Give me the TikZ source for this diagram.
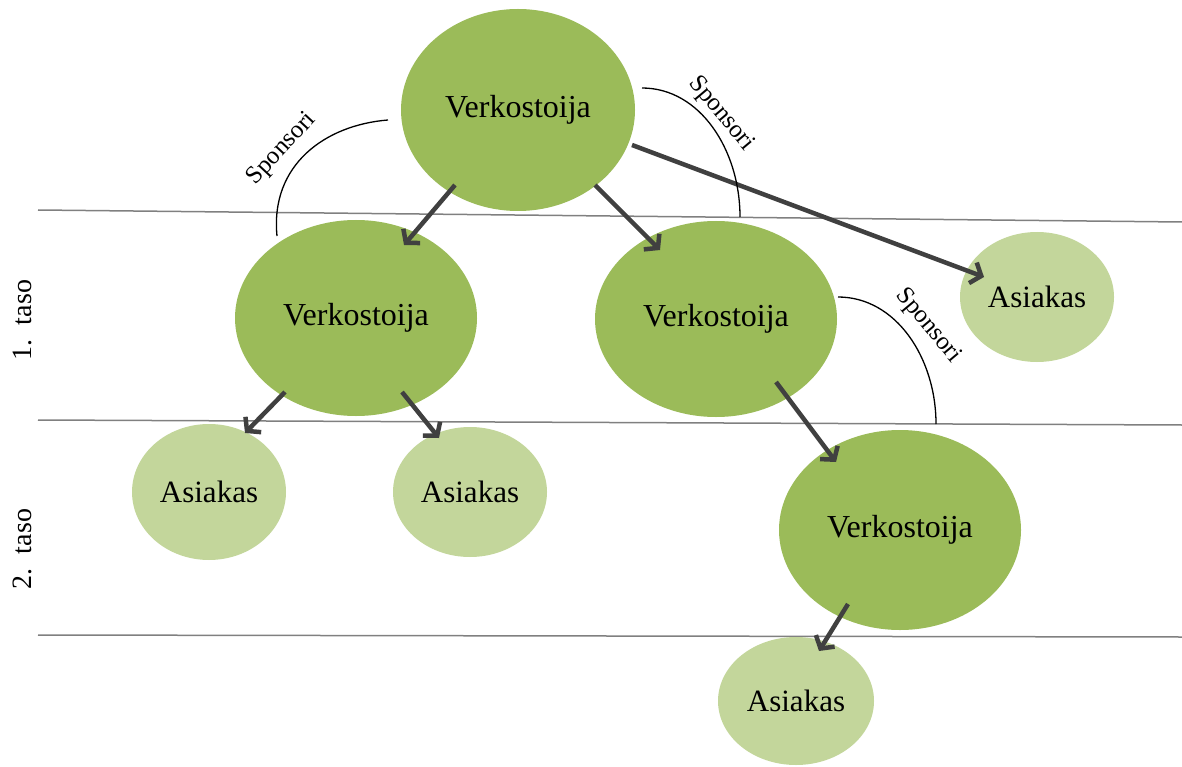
\documentclass[tikz,border=0pt]{standalone}
\usepackage{fontspec}
\newfontfamily\gfont{Liberation Serif}
\usetikzlibrary{shapes.geometric,arrows.meta,calc}
\definecolor{dgreen}{HTML}{9BBB59}
\definecolor{lgreen}{HTML}{C3D69B}
\definecolor{arrgray}{HTML}{404040}
\definecolor{linegray}{HTML}{808080}
\tikzset{
  verk/.style={ellipse, fill=dgreen, inner sep=0pt, minimum width=242pt, minimum height=196pt, font=\gfont\fontsize{32}{36}\selectfont},
  asia/.style={ellipse, fill=lgreen, inner sep=0pt, minimum width=154pt, minimum height=132pt, font=\gfont\fontsize{31}{36}\selectfont},
  arr/.style={draw=arrgray, line width=4.5pt, -{Straight Barb[length=9pt,width=22pt]}},
  levelline/.style={draw=linegray, line width=1.5pt},
  sparc/.style={draw=black, line width=1.3pt},
  splabel/.style={font=\gfont\fontsize{25}{28}\selectfont, inner sep=0pt},
  taso/.style={font=\gfont\fontsize{28}{32}\selectfont, inner sep=0pt, rotate=90}
}
\begin{document}
\begin{tikzpicture}[x=1pt,y=-1pt]
\useasboundingbox (0,0) rectangle (1182,767);
% level lines
\coordinate (l1a) at (38,210); \coordinate (l1b) at (1182,222);
\coordinate (l2a) at (38,420); \coordinate (l2b) at (1182,425);
\coordinate (l3a) at (38,635); \coordinate (l3b) at (1182,637);
\draw[levelline] (l1a) -- (l1b);
\draw[levelline] (l2a) -- (l2b);
\draw[levelline] (l3a) -- (l3b);
% nodes
\node[verk, minimum width=234pt, minimum height=202pt] (v0) at (518,110) {Verkostoija};
\node[verk] (v1) at (356,318) {Verkostoija};
\node[verk] (v2) at (716,319) {Verkostoija};
\node[verk, minimum height=200pt] (v3) at (900,530) {Verkostoija};
\node[asia, minimum height=130pt] (a0) at (1037,297) {Asiakas};
\node[asia, minimum height=136pt] (a1) at (209,492) {Asiakas};
\node[asia, minimum height=130pt] (a2) at (470,492) {Asiakas};
\node[asia, minimum width=156pt, minimum height=128pt] (a3) at (796,701) {Asiakas};
% arrows
\draw[arr] ($(v0)+(-63,75)$) -- ($(v1)+(48,-73)$);
\draw[arr] ($(v0)+(77,75)$) -- ($(v2)+(-56,-69)$);
\draw[arr] ($(v0)+(114,35)$) -- ($(a0)+(-53,-20)$);
\draw[arr] ($(v1)+(-71,74)$) -- ($(a1)+(36,-59)$);
\draw[arr] ($(v1)+(46,74)$) -- ($(a2)+(-31,-54)$);
\draw[arr] ($(v2)+(60,63)$) -- ($(v3)+(-64,-68)$);
\draw[arr] ($(v3)+(-52,74)$) -- ($(a3)+(23,-50)$);
% sponsor arcs
\coordinate (s1a) at (388,120); \coordinate (s1b) at (277,236);
\draw[sparc] (s1a) .. controls (325,125) and (270,165) .. (s1b);
\coordinate (s2a) at (642,88); \coordinate (s2b) at (740,217);
\draw[sparc] (s2a) .. controls (700,88) and (740,150) .. (s2b);
\coordinate (s3a) at (838,297); \coordinate (s3b) at (936,424);
\draw[sparc] (s3a) .. controls (896,297) and (936,358) .. (s3b);
\node[splabel, rotate=47] (sp1) at (282,149) {Sponsori};
\node[splabel, rotate=-50] (sp2) at (721,114) {Sponsori};
\node[splabel, rotate=-50] (sp3) at (928,326) {Sponsori};
% level labels
\node[taso] (t1) at (22,320) {1.\ \ taso};
\node[taso] (t2) at (22,549) {2.\ \ taso};
\end{tikzpicture}
\end{document}
